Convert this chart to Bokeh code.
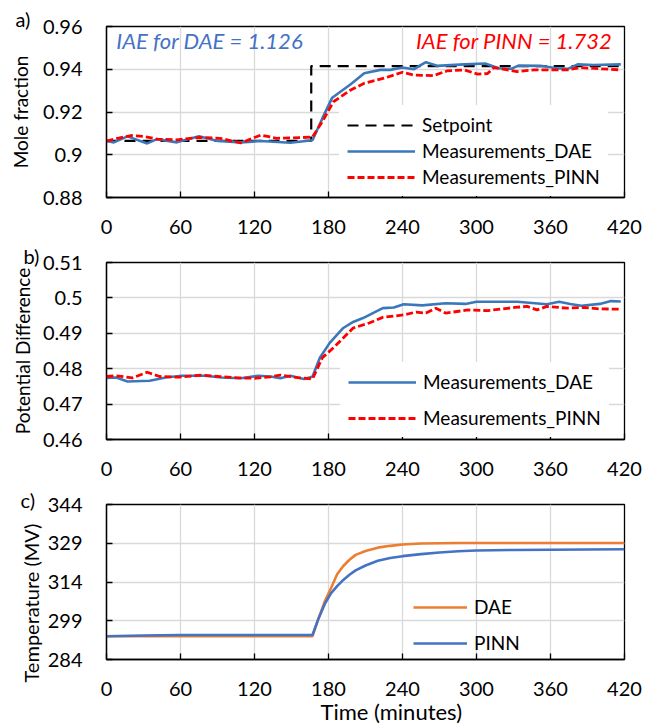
from bokeh.plotting import figure
from bokeh.models import Range1d, FixedTicker, Legend, LegendItem, Label, Title
from bokeh.layouts import column
from bokeh.embed import file_html
from bokeh.resources import INLINE

# ---------------- data ----------------
x_ticks = [0, 60, 120, 180, 240, 300, 360, 420]

# panel a: mole fraction
sp_t = [0, 166, 166, 420]
sp_v = [0.9065, 0.9065, 0.9415, 0.9415]
a_dae_t = [0, 6, 17, 33, 41, 57, 75, 90, 109, 125, 149, 167, 175, 183, 198, 209, 222, 230, 240,
           249, 259, 268, 290, 307, 318, 328, 334, 352, 365, 374, 382, 395, 417]
a_dae_v = [0.9064, 0.9058, 0.9086, 0.9053, 0.9073, 0.9058, 0.9087, 0.9064, 0.9058, 0.9064, 0.9056,
           0.9068, 0.9170, 0.9267, 0.9330, 0.9381, 0.9397, 0.9397, 0.9408, 0.9400, 0.9433, 0.9416,
           0.9423, 0.9427, 0.9405, 0.9402, 0.9417, 0.9416, 0.9405, 0.9402, 0.9423, 0.9420, 0.9423]
a_pinn_t = [0, 9, 20, 30, 41, 57, 76, 92, 109, 125, 138, 157, 167, 175, 184, 198, 209, 225, 240,
            249, 265, 276, 290, 301, 309, 314, 333, 347, 374, 384, 401, 417]
a_pinn_v = [0.9064, 0.9077, 0.9090, 0.9086, 0.9073, 0.9070, 0.9081, 0.9077, 0.9055, 0.9092, 0.9077,
            0.9080, 0.9083, 0.9155, 0.9248, 0.9303, 0.9334, 0.9358, 0.9386, 0.9373, 0.9370, 0.9392,
            0.9397, 0.9377, 0.9380, 0.9408, 0.9389, 0.9397, 0.9397, 0.9408, 0.9402, 0.9397]
a_y_ticks = [0.88, 0.90, 0.92, 0.94, 0.96]
a_y_labels = ["0.88", "0.9", "0.92", "0.94", "0.96"]

# panel b: potential difference
b_dae_t = [0, 8, 17, 35, 48, 61, 80, 93, 109, 123, 133, 141, 149, 160, 167, 173, 181, 192, 200,
           208, 224, 233, 241, 256, 275, 291, 300, 333, 357, 367, 376, 385, 400, 409, 417]
b_dae_v = [0.4774, 0.4775, 0.4764, 0.4766, 0.4775, 0.4780, 0.4780, 0.4775, 0.4773, 0.4780, 0.4778,
           0.4773, 0.4780, 0.4771, 0.4777, 0.4831, 0.4873, 0.4915, 0.4932, 0.4943, 0.4971, 0.4973,
           0.4982, 0.4979, 0.4985, 0.4983, 0.4989, 0.4989, 0.4982, 0.4989, 0.4983, 0.4978, 0.4983,
           0.4991, 0.4990]
b_pinn_t = [0, 8, 21, 33, 43, 59, 77, 91, 107, 120, 133, 141, 155, 167, 175, 184, 200, 213, 224,
            241, 251, 259, 267, 275, 293, 309, 331, 341, 349, 357, 373, 387, 400, 417]
b_pinn_v = [0.4778, 0.4780, 0.4774, 0.4790, 0.4778, 0.4776, 0.4782, 0.4778, 0.4774, 0.4773, 0.4777,
            0.4782, 0.4775, 0.4771, 0.4831, 0.4859, 0.4915, 0.4929, 0.4945, 0.4952, 0.4960, 0.4957,
            0.4971, 0.4957, 0.4966, 0.4964, 0.4973, 0.4976, 0.4966, 0.4976, 0.4971, 0.4973, 0.4969,
            0.4968]
b_y_ticks = [0.46, 0.47, 0.48, 0.49, 0.50, 0.51]
b_y_labels = ["0.46", "0.47", "0.48", "0.49", "0.5", "0.51"]

# panel c: temperature (MV)
c_t = [0, 30, 60, 90, 120, 150, 167, 172, 177, 182, 187, 192, 197, 202, 210, 220, 230, 240,
       255, 270, 285, 300, 330, 360, 390, 420]
c_dae_v = [293.0, 293.0, 293.0, 293.0, 293.0, 293.0, 293.0, 300.0, 306.5, 311.6, 317.0, 320.2,
           322.6, 324.5, 326.0, 327.3, 328.0, 328.5, 328.9, 329.0, 329.1, 329.1, 329.1, 329.1,
           329.1, 329.1]
c_pinn_v = [293.0, 293.3, 293.5, 293.5, 293.5, 293.5, 293.5, 300.0, 305.5, 309.6, 312.4, 314.8,
            316.8, 318.5, 320.4, 322.2, 323.3, 324.0, 324.8, 325.4, 325.9, 326.2, 326.4, 326.5,
            326.6, 326.7]
c_y_ticks = [284, 299, 314, 329, 344]

FONT = "Lato"
MEAS_BLUE = "#3A78BA"
RED = "#FF0000"
ORANGE = "#ED7D31"
PBLUE = "#4472C4"
GRID = "#D9D9D9"


def make_fig(height, ylo, yhi, yticks, ylabels, mbl, mbt, mbb):
    p = figure(width=645, height=height, x_range=Range1d(0, 420), y_range=Range1d(ylo, yhi),
               output_backend="svg", toolbar_location=None,
               min_border_left=mbl, min_border_right=21, min_border_top=mbt, min_border_bottom=mbb)
    p.background_fill_color = "white"
    p.border_fill_color = "white"
    p.outline_line_color = "black"
    p.outline_line_width = 1.3
    for ax in (p.xaxis[0], p.yaxis[0]):
        ax.axis_line_color = "black"
        ax.axis_line_width = 1.3
        ax.major_tick_in = 6
        ax.major_tick_out = 0
        ax.major_tick_line_color = "black"
        ax.major_tick_line_width = 1.3
        ax.minor_tick_line_color = None
        ax.major_label_text_font = FONT
        ax.major_label_text_font_size = "20px"
        ax.major_label_text_color = "black"
        ax.axis_label_text_font = FONT
        ax.axis_label_text_font_size = "19px"
        ax.axis_label_text_font_style = "normal"
        ax.axis_label_text_color = "black"
    p.xaxis.ticker = FixedTicker(ticks=x_ticks)
    p.yaxis.ticker = FixedTicker(ticks=yticks)
    p.xaxis.major_label_standoff = 22
    p.yaxis.major_label_standoff = 24
    if ylabels is not None:
        p.yaxis.major_label_overrides = {t: l for t, l in zip(yticks, ylabels)}
    p.xgrid.grid_line_color = GRID
    p.ygrid.grid_line_color = GRID
    p.xgrid.grid_line_width = 1.3
    p.ygrid.grid_line_width = 1.3
    return p


def panel_tag(p, text, offset, standoff):
    p.title.text = text
    p.title.align = "left"
    p.title.offset = offset
    p.title.standoff = standoff
    p.title.vertical_align = "bottom"
    p.title.text_font = FONT
    p.title.text_font_size = "20px"
    p.title.text_font_style = "normal"
    p.title.text_color = "black"


def style_legend(leg, gw, spacing):
    leg.label_text_font = FONT
    leg.label_text_font_size = "19px"
    leg.label_text_color = "black"
    leg.glyph_width = gw
    leg.glyph_height = 20
    leg.label_height = 20
    leg.label_standoff = 7
    leg.spacing = spacing
    leg.padding = 8
    leg.margin = 0
    leg.border_line_alpha = 0


# ---------------- panel a ----------------
pa = make_fig(243, 0.88, 0.96, a_y_ticks, a_y_labels, 106, 26, 46)
panel_tag(pa, "a)", -91, -8)
pa.yaxis.axis_label = "Mole fraction"
pa.yaxis.axis_label_standoff = 8
r_sp = pa.line(sp_t, sp_v, line_color="black", line_width=2.2, line_dash="11 7")
r_ad = pa.line(a_dae_t, a_dae_v, line_color=MEAS_BLUE, line_width=2.6)
r_ap = pa.line(a_pinn_t, a_pinn_v, line_color=RED, line_width=2.8, line_dash="7 3")
leg_a = Legend(items=[LegendItem(label="Setpoint", renderers=[r_sp]),
                      LegendItem(label="Measurements_DAE", renderers=[r_ad]),
                      LegendItem(label="Measurements_PINN", renderers=[r_ap])],
               location=(233, 1))
style_legend(leg_a, 68, 3)
leg_a.background_fill_color = "white"
leg_a.background_fill_alpha = 1.0
pa.add_layout(leg_a)
pa.add_layout(Label(x=8, y=0.9534, text="IAE for DAE = 1.126", text_font=FONT, text_font_size="22px",
                    text_font_style="italic", text_color=PBLUE, text_baseline="middle", text_align="left"))
pa.add_layout(Label(x=410, y=0.9534, text="IAE for PINN = 1.732", text_font=FONT, text_font_size="22px",
                    text_font_style="italic", text_color=RED, text_baseline="middle", text_align="right"))

# ---------------- panel b ----------------
pb = make_fig(235, 0.46, 0.51, b_y_ticks, b_y_labels, 100, 19, 37)
panel_tag(pb, "b)", -83, -10)
pb.yaxis.axis_label = "Potential Difference"
pb.yaxis.axis_label_standoff = 6
r_bd = pb.line(b_dae_t, b_dae_v, line_color=MEAS_BLUE, line_width=2.6)
r_bp = pb.line(b_pinn_t, b_pinn_v, line_color=RED, line_width=2.8, line_dash="7 3")
leg_b = Legend(items=[LegendItem(label="Measurements_DAE", renderers=[r_bd]),
                      LegendItem(label="Measurements_PINN", renderers=[r_bp])],
               location=(234, 2))
style_legend(leg_b, 68, 13)
leg_b.background_fill_color = "white"
leg_b.background_fill_alpha = 1.0
pb.add_layout(leg_b)

# ---------------- panel c ----------------
pc = make_fig(248, 284, 344, c_y_ticks, None, 106, 26, 67)
panel_tag(pc, "c)", -86, -14)
r_cd = pc.line(c_t, c_dae_v, line_color=ORANGE, line_width=2.6)
r_cp = pc.line(c_t, c_pinn_v, line_color=PBLUE, line_width=2.6)
leg_c = Legend(items=[LegendItem(label="DAE", renderers=[r_cd]),
                      LegendItem(label="PINN", renderers=[r_cp])],
               location=(299, -3))
style_legend(leg_c, 54, 13)
leg_c.background_fill_alpha = 0.0
pc.add_layout(leg_c)
pc.add_layout(Title(text="Temperature (MV)", align="left", offset=-23, vertical_align="top",
                    standoff=0, text_font=FONT, text_font_size="20px", text_font_style="normal",
                    text_color="black"), "left")
pc.add_layout(Title(text="Time (minutes)", align="left", offset=214, vertical_align="bottom",
                    standoff=-6, text_font=FONT, text_font_size="22px", text_font_style="normal",
                    text_color="black"), "below")

layout = column(pa, pb, pc, spacing=0)
open("out.html", "w").write(file_html(layout, INLINE))
